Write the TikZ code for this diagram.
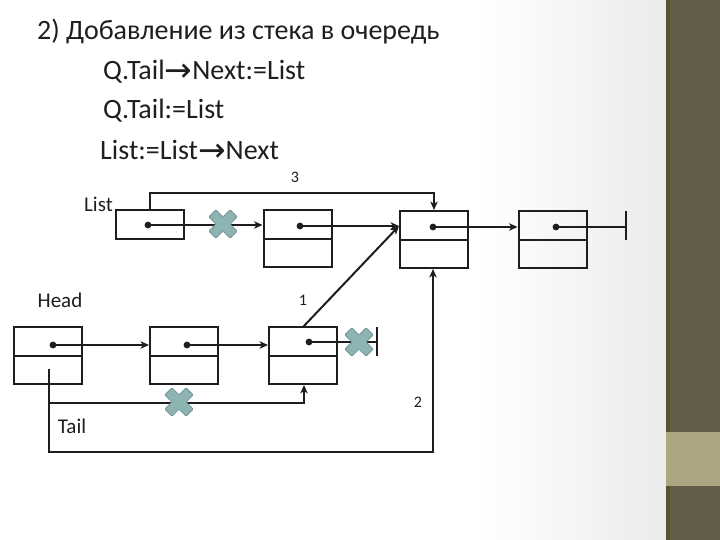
\documentclass[tikz,border=0pt]{standalone}
\usepackage{fontspec}
\setmainfont{Carlito}
\newfontfamily\dvfont{DejaVu Sans}
\usetikzlibrary{arrows.meta}
\definecolor{ink}{HTML}{1E1E1E}
\definecolor{barcol}{HTML}{655D4B}
\definecolor{bandcol}{HTML}{ABA680}
\definecolor{xfill}{HTML}{8DB3B3}
\definecolor{xline}{HTML}{6E9494}
\newcommand{\ar}{\raisebox{-1.5pt}{\dvfont\fontsize{33}{33}\selectfont\char"2192}}
\tikzset{
  cell/.style={draw=ink, line width=2pt, minimum width=68pt, minimum height=57pt, inner sep=0pt},
  onecell/.style={draw=ink, line width=2pt, minimum width=68pt, minimum height=29pt, inner sep=0pt},
  link/.style={draw=ink, line width=2pt},
  arr/.style={link, -{Stealth[length=8.5pt,width=7.5pt,inset=2.5pt]}},
  dotc/.style={fill=ink},
  xmk/.style={fill=xfill, draw=xline, line width=0.8pt, rounded corners=1pt},
  titletext/.style={font=\fontsize{28}{32}\selectfont, text=ink, anchor=base west, inner sep=0pt},
  lbl/.style={font=\fontsize{21}{24}\selectfont, text=ink, inner sep=0pt},
  num/.style={font=\fontsize{16}{18}\selectfont, text=ink, inner sep=0pt}
}
\begin{document}
\begin{tikzpicture}[x=1pt,y=-1pt]
\useasboundingbox (0,0) rectangle (720,540);
\fill[white] (0,0) rectangle (666,540);
\shade[left color=white, right color=black!8] (480,0) rectangle (666,540);
\fill[barcol] (666,0) rectangle (720,540);
\fill[barcol!85!yellow!70!black] (666,0) rectangle (670,540);
\fill[bandcol] (666,432) rectangle (720,486);

% texts
\node[titletext] (t1) at (37,40) {2) Добавление из стека в очередь};
\node[titletext] (t2) at (103,80) {Q.Tail\ar Next:=List};
\node[titletext] (t3) at (103,119) {Q.Tail:=List};
\node[titletext] (t4) at (100,160) {List:=List\ar Next};

% boxes
\node[onecell] (L) at (150,224.5) {};
\node[cell] (T2) at (297.5,238.5) {};
\node[cell] (T3) at (434,239.5) {};
\node[cell] (T4) at (552.5,239.5) {};
\node[cell] (H) at (48,355.5) {};
\node[cell] (B2) at (184,355.5) {};
\node[cell] (B3) at (303,355.5) {};
\foreach \b in {T2,T3,T4,H,B2,B3}{\draw[link] (\b.west) -- (\b.east);}

% dots
\coordinate (dL) at (148,225);
\coordinate (dT2) at (300,226);
\coordinate (dT3) at (433,227);
\coordinate (dT4) at (556,227);
\coordinate (dH) at (53,345);
\coordinate (dB2) at (187,345);
\coordinate (dB3) at (309,342);
\foreach \d in {dL,dT2,dT3,dT4,dH,dB2,dB3}{\fill[dotc] (\d) circle (3.4pt);}

% labels
\node[lbl, anchor=east] (lList) at (113,204) {List};
\node[lbl] (lHead) at (60,300) {Head};
\node[lbl] (lTail) at (72,426) {Tail};
\node[num] (n3) at (295,177) {3};
\node[num] (n1) at (303,300) {1};
\node[num] (n2) at (418,402) {2};

% links
\draw[arr] (dL) -- (dL -| T2.west);
\draw[arr] (dT2) -- (dT2 -| T3.west);
\draw[arr] (dT3) -- (dT3 -| T4.west);
\draw[arr] (dH) -- (dH -| B2.west);
\draw[arr] (dB2) -- (dB2 -| B3.west);

\coordinate (e4) at (626,227);
\draw[link] (dT4) -- (e4);
\draw[link] (626,211) -- (626,239.5);
\coordinate (e3) at (377,342);
\draw[link] (dB3) -- (e3);
\draw[link] (377,327) -- (377,356);

% arrow 3
\coordinate (c3a) at (150,193);
\coordinate (c3b) at (434,193);
\draw[arr] (L.north) -- (c3a) -- (c3b) -- (T3.north);
% arrow 1
\coordinate (b3t) at (303,327);
\coordinate (t3w) at (399,226);
\draw[arr] (b3t) -- (t3w);
% arrow 2
\coordinate (tl0) at (49,369);
\coordinate (tl1) at (49,452);
\coordinate (tl2) at (433,452);
\draw[arr] (tl0) -- (tl1) -- (tl2) -- (tl2 |- T3.south);
\coordinate (tb0) at (49,403);
\coordinate (tb1) at (304,403);
\draw[arr] (tb0) -- (tb1) -- (tb1 |- B3.south);

% crosses
\foreach \p in {(223,224),(359,342),(179,402)}{
  \draw[xmk, shift={\p}, rotate=45] (-5,-15) -- (5,-15) -- (5,-5) -- (15,-5) -- (15,5) -- (5,5) -- (5,15) -- (-5,15) -- (-5,5) -- (-15,5) -- (-15,-5) -- (-5,-5) -- cycle;
}
\end{tikzpicture}
\end{document}
